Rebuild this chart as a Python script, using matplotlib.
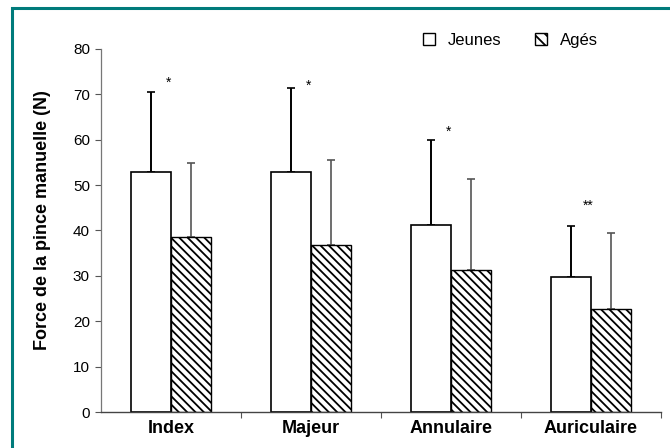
import matplotlib.pyplot as plt
import numpy as np
from matplotlib.patches import Rectangle, Patch

# Data
doigts = ['Index', 'Majeur', 'Annulaire', 'Auriculaire']
jeunes = [53.0, 53.0, 41.3, 29.8]
jeunes_sd = [17.5, 18.3, 18.6, 11.3]
ages = [38.5, 36.7, 31.3, 22.7]
ages_sd = [16.3, 18.8, 20.0, 16.8]
signif = ['*', '*', '*', '**']
signif_y = [72.5, 72.0, 61.8, 45.5]

plt.rcParams['font.family'] = ['Liberation Sans', 'DejaVu Sans']
plt.rcParams['hatch.linewidth'] = 1.3

fig = plt.figure(figsize=(6.7, 4.48), dpi=100)
ax = fig.add_axes([101 / 670, 36 / 448, 560 / 670, 363 / 448])

x = np.arange(len(doigts))
w = 0.2857

ax.bar(x - w / 2, jeunes, w, color='white', edgecolor='black', linewidth=1.2, zorder=2)
ax.bar(x + w / 2, ages, w, color='white', edgecolor='black', linewidth=1.0,
       hatch='\\\\\\\\', zorder=2)
ax.errorbar(x - w / 2, jeunes, yerr=[np.zeros(4), jeunes_sd], fmt='none',
            ecolor='black', elinewidth=1.4, capsize=3, capthick=1.2, zorder=1)
ax.errorbar(x + w / 2, ages, yerr=[np.zeros(4), ages_sd], fmt='none',
            ecolor='#555555', elinewidth=1.2, capsize=3, capthick=1.2, zorder=1)

for xi, s, sy in zip(x, signif, signif_y):
    ax.text(xi - 0.02, sy, s, ha='center', va='center', fontsize=10)

ax.set_xlim(-0.5, 3.5)
ax.set_ylim(0, 80)
ax.set_yticks(range(0, 81, 10))
ax.tick_params(axis='y', labelsize=11, length=4, width=0.8, color='#555555', pad=4)
ax.set_xticks(x)
ax.set_xticklabels(doigts, fontsize=13, fontweight='bold')
ax.tick_params(axis='x', length=0, pad=6)
ax.set_xticks(x + 0.5, minor=True)
ax.tick_params(axis='x', which='minor', length=4, width=0.8, color='#555555')

ax.spines['top'].set_visible(False)
ax.spines['right'].set_visible(False)
ax.spines['left'].set_color('#777777')
ax.spines['left'].set_linewidth(0.9)
ax.spines['bottom'].set_color('#444444')
ax.spines['bottom'].set_linewidth(1.0)

ax.set_ylabel('Force de la pince manuelle (N)', fontsize=13, fontweight='bold', labelpad=16)
ax.yaxis.label.set_y(0.53)

handles = [Patch(facecolor='white', edgecolor='black', linewidth=1.0),
           Patch(facecolor='white', edgecolor='black', linewidth=1.0, hatch='\\\\\\')]
ax.legend(handles, ['Jeunes', 'Agés'], ncol=2, frameon=False, fontsize=12,
          loc='upper left', bbox_to_anchor=(0.548, 1.085), handlelength=0.7,
          handleheight=0.7, handletextpad=0.8, columnspacing=2.0)

# teal frame (left and top edges visible)
fig.patches.append(Rectangle((12 / 670, -0.1), 1.2, 1.1 - 8 / 448, transform=fig.transFigure,
                             fill=False, edgecolor='#007b7b', linewidth=2.2))

fig.savefig('out.png', dpi=100)
